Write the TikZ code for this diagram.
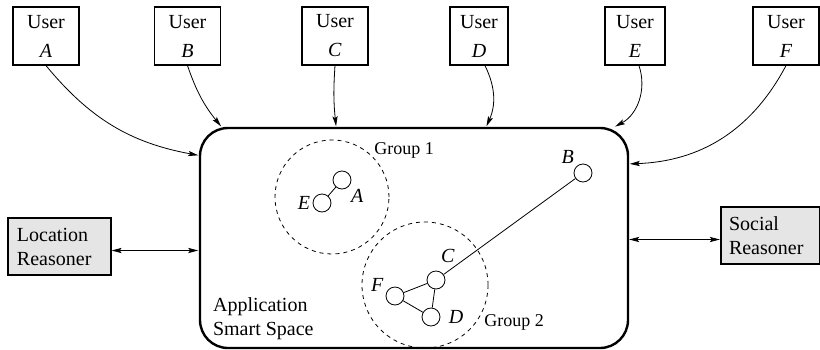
\documentclass[tikz,border=0pt]{standalone}
\usepackage{fontspec}
\setmainfont{Liberation Serif}
\usetikzlibrary{arrows.meta,positioning}
\tikzset{
    %Define standard arrow tip
    >={Stealth[length=5pt, width=2.6pt, inset=1pt]},
    %Define style for boxes
    user/.style={
           rectangle,
           draw=black, semithick,
           minimum width=33pt,
           minimum height=29pt,
           inner sep=1pt,
           align=center},
    reasoner/.style={
           rectangle,
           draw=black, semithick,
           fill={rgb:black,1;white,9},
           minimum height=28.5pt,
           inner xsep=4.5pt,
           align=left},
    space/.style={
           rectangle,
           rounded corners=14pt,
           draw=black, very thick,
           minimum width=214pt,
           minimum height=110pt},
    % members and groups
    member/.style={
           circle,
           draw=black, thin,
           minimum size=9pt,
           inner sep=0pt},
    group/.style={
           circle,
           draw=black, thin,
           dash pattern=on 2pt off 2pt,
           inner sep=0pt},
    tag/.style={font=\itshape, inner sep=1pt},
    grouptag/.style={font=\small, inner sep=1pt, anchor=west},
    % Define arrow style
    pil/.style={
           ->,
           thin,
           shorten >=0.3pt},
}
\begin{document}
\begin{tikzpicture}[x=0.5pt, y=-0.5pt]
\useasboundingbox (0,0) rectangle (820,349);

%smart space
\node[space] (space) at (414,238) {};
\node[anchor=west, align=left] (spacename) at (206,319) {Application\\Smart Space};

%users, arrows into the smart space
\node[user] (userA) at (46,36) {User\\[2.5pt]\textit{A}}
  (userA.south) edge[pil, bend right=20] (space.159);
\node[user] (userB) at (187.5,36) {User\\[2.5pt]\textit{B}}
  (userB.south) edge[pil, bend right=10] (space.150.2);
\node[user] (userC) at (335,36) {User\\[2.5pt]\textit{C}}
  (userC.south) edge[pil, bend right=5] (space.125.7);
\node[user, minimum width=29pt] (userD) at (479,36) {User\\[2.5pt]\textit{D}}
  ([xshift=3pt]userD.south) edge[pil, bend left=25] (space.57);
\node[user, minimum width=30pt] (userE) at (635,36) {User\\[2.5pt]\textit{E}}
  ([xshift=2pt]userE.south) edge[pil, bend left=40] (space.29.7);
\node[user] (userF) at (786,36) {User\\[2.5pt]\textit{F}}
  (userF.south) edge[pil, bend left=30] (space.19.3);

%reasoners
\node[reasoner, text width=42.5pt] (location) at (59.5,246.5) {Location\\Reasoner};
\node[reasoner, text width=41.5pt, inner xsep=4pt] (social) at (770.5,235.5) {Social\\Reasoner};
\draw[pil, <->] ([yshift=-2pt]location.east) -- ([yshift=-2pt]location.east -| space.west);
\draw[pil, <->] ([yshift=-2pt]social.west -| space.east) -- ([yshift=-2pt]social.west);

%group 1
\node[group, minimum size=57pt] (group1) at (332,197) {};
\node[grouptag] (group1tag) at (372,150) {Group 1};
\node[member, label={[tag]left:E}] (memE) at (322,203) {};
\node[member, label={[tag]-45:A}] (memA) at (342,180) {}
  (memE) edge (memA);

%group 2
\node[group, minimum size=63pt] (group2) at (425,285) {};
\node[grouptag] (group2tag) at (482,322) {Group 2};
\node[member, label={[tag, label distance=3pt]80:C}] (memC) at (436,280) {};
\node[member, label={[tag]170:F}] (memF) at (395,296) {};
\node[member, label={[tag, label distance=3pt]right:D}] (memD) at (431,317) {}
  (memC) edge (memF)
  (memC) edge (memD)
  (memF) edge (memD);

%lone member
\node[member, label={[tag]135:B}] (memB) at (583,173) {}
  (memB) edge (memC);

\end{tikzpicture}
\end{document}
